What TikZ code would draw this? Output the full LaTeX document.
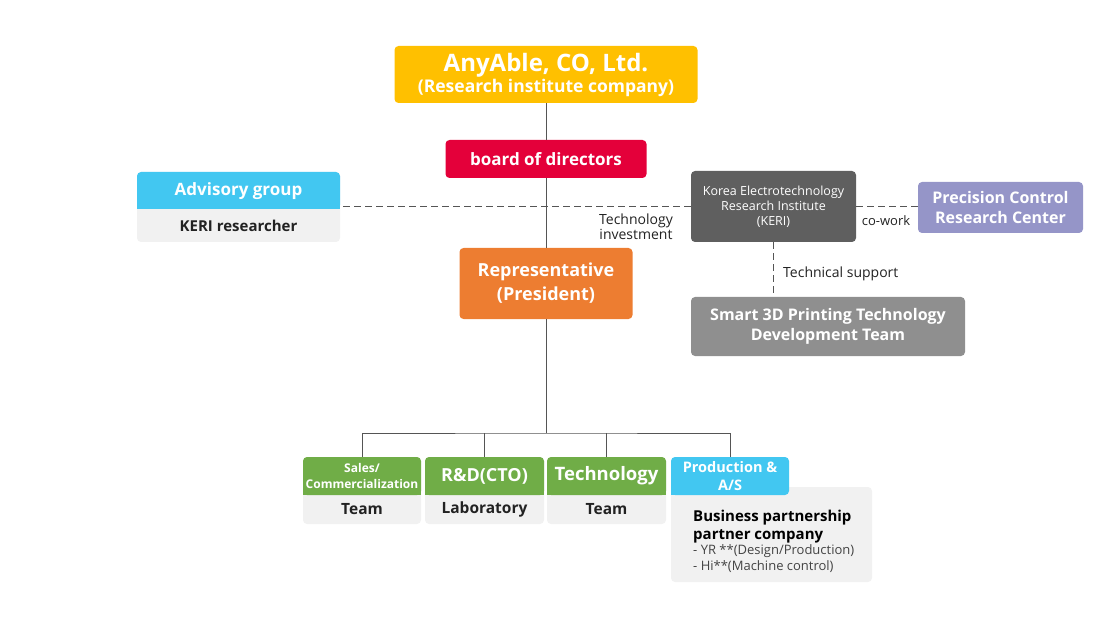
\documentclass[tikz,border=0pt]{standalone}
\usepackage{fontspec}
\setmainfont{Open Sans}
\definecolor{cyel}{HTML}{FFC000}
\definecolor{cred}{HTML}{E4003A}
\definecolor{cblue}{HTML}{42C7F1}
\definecolor{clg}{HTML}{F1F1F1}
\definecolor{cdg}{HTML}{5F5F5F}
\definecolor{cpur}{HTML}{9595C8}
\definecolor{cmg}{HTML}{8F8F8F}
\definecolor{cora}{HTML}{ED7D31}
\definecolor{cgrn}{HTML}{70AD47}
\definecolor{cline}{HTML}{555555}
\definecolor{ctxt}{HTML}{222222}
\newcommand{\fs}[2]{\fontsize{#1}{#2}\selectfont}
\begin{document}
\begin{tikzpicture}[x=1pt,y=-1pt,
  boxst/.style={rounded corners=4pt, inner sep=0pt, text=white, align=center},
  hdrbg/.style={rounded corners=4pt, inner sep=0pt},
  txt/.style={inner sep=0pt, align=center},
  conn/.style={draw=cline, line width=1pt},
  dconn/.style={draw=cline, line width=1pt, dash pattern=on 7pt off 4pt}]
\useasboundingbox (0,0) rectangle (1100,636);

% top
\node[boxst, fill=cyel, minimum width=303, minimum height=57, font=\bfseries\fs{17.5}{21}] (any) at (546,74.5)
  {{\fs{24}{27}AnyAble, CO, Ltd.}\\(Research institute company)};
\node[boxst, fill=cred, minimum width=201, minimum height=38, font=\bfseries\fs{17}{20}] (board) at (546,159)
  {board of directors};
\node[boxst, fill=cora, minimum width=173, minimum height=71, font=\bfseries\fs{18}{24}] (rep) at (546,283.5)
  {Representative\\(President)};

% advisory
\node[hdrbg, fill=clg, minimum width=203, minimum height=70] (adv) at (238.5,207) {};
\node[hdrbg, fill=cblue, minimum width=203, minimum height=37] (advh) at (238.5,190.5) {};
\fill[cblue] (advh.west) rectangle (advh.south east);
\node[txt, text=white, font=\bfseries\fs{17}{20}] (advt) at (238.5,191) {Advisory group};
\node[txt, text=ctxt, font=\bfseries\fs{15}{18}] (advb) at (238.5,226) {KERI researcher};

% KERI
\node[boxst, fill=cdg, minimum width=165, minimum height=71, font=\fs{12.5}{15}] (keri) at (773.5,206.5)
  {Korea Electrotechnology\\Research Institute\\(KERI)};
\node[boxst, fill=cpur, minimum width=165, minimum height=51, font=\bfseries\fs{16}{19.5}] (prec) at (1000.5,207.5)
  {Precision Control\\Research Center};
\node[boxst, fill=cmg, minimum width=274, minimum height=59, font=\bfseries\fs{16}{19.5}] (smart) at (828,326.5)
  {Smart 3D Printing Technology\\Development Team};

% connectors top
\draw[dconn] (keri.west) -- (keri.west -| adv.east);
\draw[dconn] (keri.east) -- (keri.east -| prec.west);
\draw[dconn] (keri.south) -- (keri.south |- smart.north);
\draw[conn] (any.south) -- (board.north);
\draw[conn] (board.south) -- (rep.north);

\node[txt, text=ctxt, font=\fs{14}{15}] (tinv) at (636,226.5) {Technology\\investment};
\node[txt, text=ctxt, font=\fs{13}{15}] (cow) at (886,220.5) {co-work};
\node[txt, text=ctxt, font=\fs{14}{16}, anchor=west] (tsup) at (783,273.5) {Technical support};

% teams
\node[hdrbg, fill=clg, minimum width=118, minimum height=67] (sales) at (362,490.5) {};
\node[hdrbg, fill=cgrn, minimum width=118, minimum height=38] (salesh) at (362,476) {};
\fill[cgrn] (salesh.west) rectangle (salesh.south east);
\node[txt, text=white, font=\bfseries\fs{12}{16.5}] (salest) at (salesh) {Sales/\\Commercialization};
\node[txt, text=ctxt, font=\bfseries\fs{15.5}{18}] (salesb) at (362,509.5) {Team};

\node[hdrbg, fill=clg, minimum width=119, minimum height=67] (rd) at (484.5,490.5) {};
\node[hdrbg, fill=cgrn, minimum width=119, minimum height=38] (rdh) at (484.5,476) {};
\fill[cgrn] (rdh.west) rectangle (rdh.south east);
\node[txt, text=white, font=\bfseries\fs{18}{20}] (rdt) at (rdh) {R\&D(CTO)};
\node[txt, text=ctxt, font=\bfseries\fs{15.5}{18}] (rdb) at (484.5,509.5) {Laboratory};

\node[hdrbg, fill=clg, minimum width=119, minimum height=67] (tech) at (606.5,490.5) {};
\node[hdrbg, fill=cgrn, minimum width=119, minimum height=38] (techh) at (606.5,476) {};
\fill[cgrn] (techh.west) rectangle (techh.south east);
\node[txt, text=white, font=\bfseries\fs{18.5}{20}] (techt) at (techh) {Technology};
\node[txt, text=ctxt, font=\bfseries\fs{15.5}{18}] (techb) at (606.5,509.5) {Team};

\node[hdrbg, fill=clg, minimum width=201, minimum height=95] (prodb) at (771.5,534.5) {};
\node[hdrbg, fill=cblue, minimum width=118, minimum height=38] (prodh) at (730,476) {};
\fill[cblue] (prodh.west) rectangle ([xshift=-4pt]prodh.south east);
\node[txt, text=white, font=\bfseries\fs{14.5}{17.5}] (prodt) at (prodh) {Production \&\\A/S};
\node[txt, text=black, font=\bfseries\fs{15}{18}, anchor=west, align=left] (prodp) at (693,527)
  {Business partnership\\partner company};
\node[txt, text=ctxt!85, font=\fs{13}{16}, anchor=west, align=left] (prodl) at (693,559)
  {- YR **(Design/Production)\\- Hi**(Machine control)};

% bus
\coordinate (bus) at (546,433);
\draw[conn] (rep.south) -- (bus);
\draw[conn] (salesh.north) |- (bus) -| (prodh.north);
\draw[conn] (rdh.north) -- (rdh.north |- bus);
\draw[conn] (techh.north) -- (techh.north |- bus);
\end{tikzpicture}
\end{document}
